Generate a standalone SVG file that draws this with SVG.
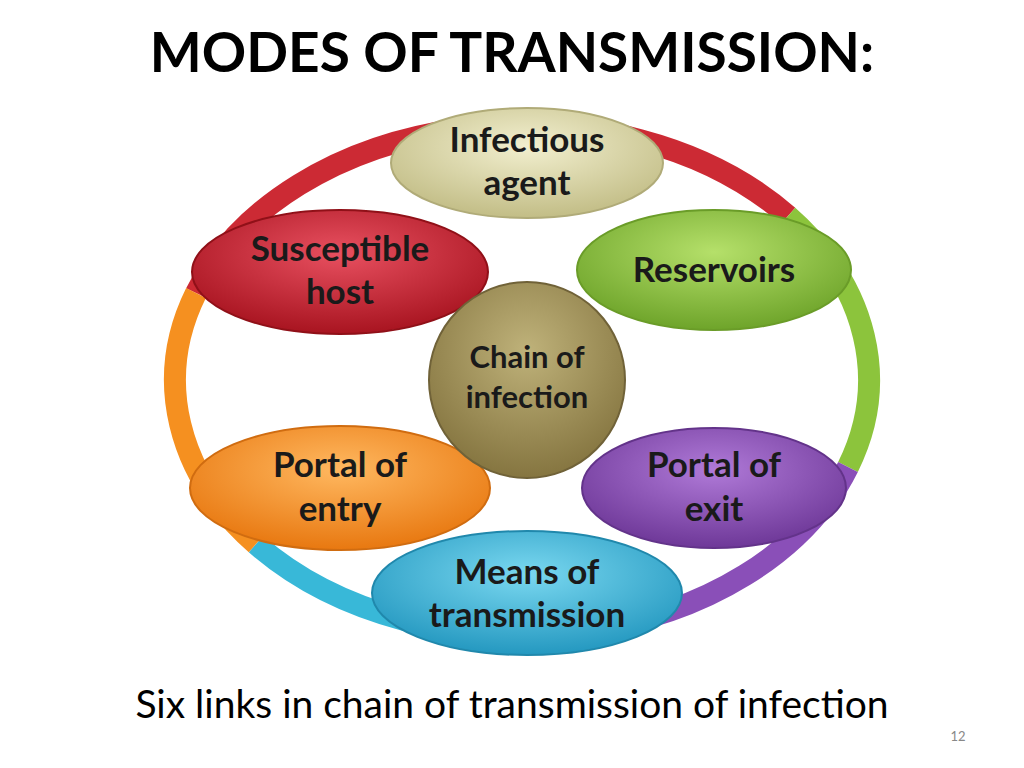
<svg xmlns="http://www.w3.org/2000/svg" width="1024" height="768" viewBox="0 0 1024 768">
<style>
.t{font-family:Lato,"Open Sans","Liberation Sans",sans-serif;font-weight:bold;font-size:35px;fill:#1a1a1a;text-anchor:middle}
.ring{fill:none;stroke-width:22;stroke-linecap:butt}
.n{stroke-width:2}
</style>
<defs>
<radialGradient id="gB" cx="50%" cy="35%" r="65%"><stop offset="0" stop-color="#f2efcf"/><stop offset="1" stop-color="#c2bd86"/></radialGradient>
<radialGradient id="gG" cx="50%" cy="35%" r="65%"><stop offset="0" stop-color="#b5e06a"/><stop offset="1" stop-color="#6ea42a"/></radialGradient>
<radialGradient id="gP" cx="50%" cy="35%" r="65%"><stop offset="0" stop-color="#b07ad8"/><stop offset="1" stop-color="#6e3898"/></radialGradient>
<radialGradient id="gC" cx="50%" cy="35%" r="65%"><stop offset="0" stop-color="#7ad8f0"/><stop offset="1" stop-color="#2498c0"/></radialGradient>
<radialGradient id="gO" cx="50%" cy="35%" r="65%"><stop offset="0" stop-color="#ffb860"/><stop offset="1" stop-color="#e87810"/></radialGradient>
<radialGradient id="gR" cx="50%" cy="35%" r="65%"><stop offset="0" stop-color="#e85060"/><stop offset="1" stop-color="#a81420"/></radialGradient>
<radialGradient id="gM" cx="50%" cy="35%" r="65%"><stop offset="0" stop-color="#bfb27a"/><stop offset="1" stop-color="#857540"/></radialGradient>
</defs>
<rect width="1024" height="768" fill="#fff"/>
<text x="512" y="72" style="font-family:Lato,'Open Sans','Liberation Sans',sans-serif;font-weight:bold;font-size:55px;text-anchor:middle;fill:#000">MODES OF TRANSMISSION:</text>
<g id="connectors">
<path class="ring" stroke="#cc2a34" d="M196,293 A347,255 0 0 1 788,216"/>
<path class="ring" stroke="#8cc43c" d="M788,216 A347,255 0 0 1 848,467"/>
<path class="ring" stroke="#8a4fb8" d="M848,467 A347,255 0 0 1 582,631"/>
<path class="ring" stroke="#38b8d8" d="M582,631 A347,255 0 0 1 256,544"/>
<path class="ring" stroke="#f59020" d="M256,544 A347,255 0 0 1 196,293"/>
</g>
<g id="infectious"><ellipse class="n" cx="527" cy="163" rx="136" ry="55" fill="url(#gB)" stroke="#b0ab78"/><text class="t" x="527" y="152">Infectious</text><text class="t" x="527" y="195">agent</text></g>
<g id="reservoirs"><ellipse class="n" cx="714" cy="270" rx="137" ry="60" fill="url(#gG)" stroke="#6a9c28"/><text class="t" x="714" y="282">Reservoirs</text></g>
<g id="exit"><ellipse class="n" cx="714" cy="488" rx="132" ry="60" fill="url(#gP)" stroke="#63338a"/><text class="t" x="714" y="477">Portal of</text><text class="t" x="714" y="521">exit</text></g>
<g id="means"><ellipse class="n" cx="527" cy="593" rx="155" ry="62" fill="url(#gC)" stroke="#2088ac"/><text class="t" x="527" y="584">Means of</text><text class="t" x="527" y="627">transmission</text></g>
<g id="entry"><ellipse class="n" cx="340" cy="488" rx="150" ry="62" fill="url(#gO)" stroke="#d06c10"/><text class="t" x="340" y="477">Portal of</text><text class="t" x="340" y="521">entry</text></g>
<g id="host"><ellipse class="n" cx="340" cy="272" rx="148" ry="62" fill="url(#gR)" stroke="#901018"/><text class="t" x="340" y="261">Susceptible</text><text class="t" x="340" y="304">host</text></g>
<g id="chain"><circle class="n" cx="527" cy="380" r="98" fill="url(#gM)" stroke="#706238"/><text class="t" x="527" y="368" style="font-size:31px">Chain of</text><text class="t" x="527" y="408" style="font-size:31px">infection</text></g>
<text x="512" y="718" style="font-family:Lato,'Open Sans','Liberation Sans',sans-serif;font-size:39px;text-anchor:middle;fill:#000">Six links in chain of transmission of infection</text>
<text x="958" y="741" style="font-family:Lato,'Liberation Sans',sans-serif;font-size:13px;text-anchor:middle;fill:#888">12</text>
</svg>
